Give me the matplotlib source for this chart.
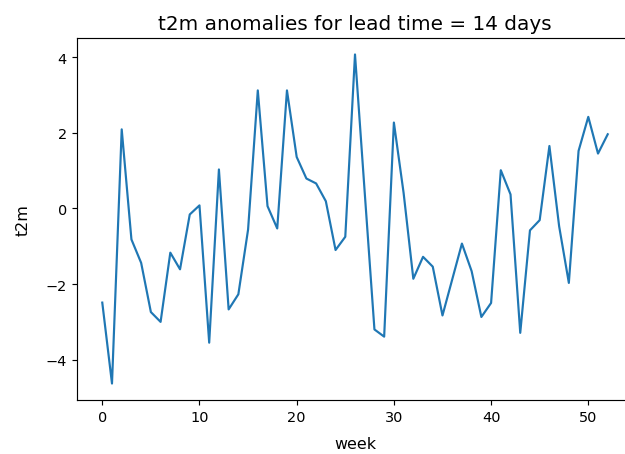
import matplotlib
matplotlib.use('Agg')
import matplotlib.pyplot as plt

# weekly t2m anomalies
weeks = list(range(53))
t2m = [-2.49, -4.63, 2.09, -0.82, -1.44, -2.74, -3.0, -1.17, -1.61, -0.16,
       0.08, -3.55, 1.03, -2.67, -2.27, -0.56, 3.12, 0.06, -0.53, 3.12,
       1.36, 0.79, 0.66, 0.19, -1.10, -0.75, 4.07, 0.42, -3.2, -3.39,
       2.27, 0.41, -1.86, -1.28, -1.54, -2.83, -1.88, -0.93, -1.66, -2.87,
       -2.5, 1.01, 0.37, -3.29, -0.58, -0.31, 1.65, -0.47, -1.97, 1.52,
       2.42, 1.45, 1.96]

dpi = 625 / 6.0
fig = plt.figure(figsize=(6.0, 455 / dpi), dpi=dpi)
# right edge of the axes runs slightly past the figure, as in the cropped reference
ax = fig.add_axes([77 / 625, 54 / 455, 556 / 625, 362 / 455])
ax.plot(weeks, t2m)
ax.set_title('t2m anomalies for lead time = 14 days', fontsize=13.8)
ax.set_xlabel('week', fontsize=11, labelpad=8)
ax.set_ylabel('t2m', fontsize=11, labelpad=10)

fig.savefig('out.png', dpi=dpi)
